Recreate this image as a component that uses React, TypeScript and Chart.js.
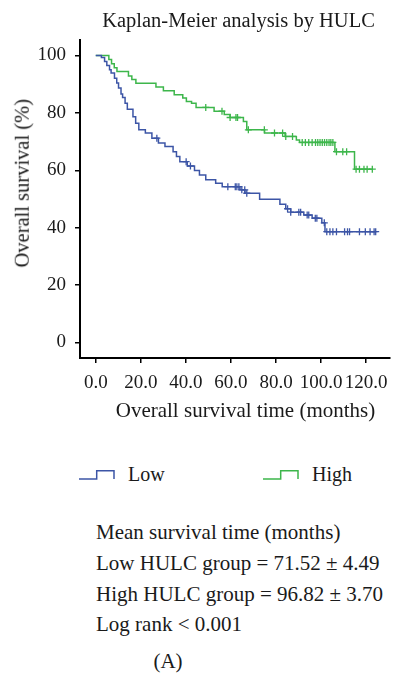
import React, { useEffect, useRef } from 'react';
import { Chart, registerables } from 'chart.js';

Chart.register(...registerables);

// Low HULC group: step times (months) and survival (%)
const lowTimes = [0, 2.5, 3.9, 4.9, 6.1, 6.8, 8.3, 9.3, 10.1, 11.2, 11.9, 13.0, 14.0, 16.5, 17.7, 19.1, 22.0, 24.9, 27.8, 30.7, 34.3, 35.8, 37.3, 40.6, 43.8, 46.0, 48.8, 53.2, 56.1, 64.0, 66.2, 72.7, 81.7, 84.3, 86.5, 92.3, 96.0, 100.3, 101.7, 124.3];
const lowSurv = [100, 99.3, 97.9, 96.5, 95.0, 93.9, 92.1, 90.4, 88.7, 86.6, 85.4, 83.4, 81.3, 78.7, 76.4, 74.1, 73.0, 71.2, 69.5, 68.3, 66.5, 64.8, 63.0, 61.5, 59.9, 58.4, 56.7, 55.5, 54.3, 53.2, 52.0, 49.9, 48.2, 46.6, 45.4, 44.4, 43.3, 41.7, 38.6, 38.6];
const lowCensored = [27.1, 40.1, 42.0, 58.6, 61.9, 62.6, 63.5, 64.8, 66.1, 67.0, 85.1, 86.5, 90.1, 90.9, 93.8, 94.5, 97.4, 98.1, 101.4, 102.5, 103.9, 105.2, 106.8, 110.4, 111.7, 112.6, 117.0, 119.6, 121.7, 123.5, 124.2];

// High HULC group
const highTimes = [0, 5.8, 7.0, 8.2, 9.4, 14.5, 16.0, 17.8, 26.7, 30.0, 34.8, 38.6, 40.2, 42.5, 44.5, 52.5, 57.0, 59.6, 65.5, 67.0, 74.9, 84.0, 89.0, 90.4, 106.1, 114.8, 122.7];
const highSurv = [100, 98.6, 97.1, 95.7, 94.4, 92.9, 91.6, 90.3, 89.0, 87.7, 86.3, 85.2, 84.0, 83.4, 81.9, 80.6, 79.4, 78.4, 77.0, 74.1, 73.0, 71.8, 70.6, 69.7, 66.5, 60.4, 60.4];
const highCensored = [48.8, 56.0, 59.6, 62.2, 62.9, 67.7, 74.8, 79.3, 82.9, 84.3, 87.3, 91.6, 93.0, 94.5, 96.0, 97.5, 98.5, 99.5, 100.5, 101.5, 102.5, 103.5, 104.3, 105.2, 106.8, 109.6, 111.3, 115.5, 117.0, 119.0, 120.4, 122.7];

const xTicks = [0, 20, 40, 60, 80, 100, 120];
const xTickLabels = ['0.0', '20.0', '40.0', '60.0', '80.0', '100.0', '120.0'];
const yTicks = [0, 20, 40, 60, 80, 100];
const yTickLabels = ['0', '20', '40', '60', '80', '100'];

const noteLines = [
  'Mean survival time (months)',
  'Low HULC group = 71.52 ± 4.49',
  'High HULC group = 96.82 ± 3.70',
  'Log rank < 0.001',
];

const BLUE = '#3c55a6';
const GREEN = '#3db64b';
const FONT = '"Liberation Serif", "Times New Roman", serif';

function survAt(times: number[], surv: number[], t: number) {
  let s = surv[0];
  for (let i = 0; i < times.length; i++) if (times[i] <= t) s = surv[i];
  return s;
}

const txt = (extra: React.CSSProperties): React.CSSProperties => ({
  position: 'absolute',
  fontFamily: FONT,
  color: '#1a1a1a',
  lineHeight: 1,
  whiteSpace: 'nowrap',
  ...extra,
});

function StepIcon({ color, left, top }: { color: string; left: number; top: number }) {
  return (
    <svg width={38} height={12} style={{ position: 'absolute', left, top }}>
      <polyline points="0,10 17.7,10 17.7,1.7 35,1.7 35,10" fill="none" stroke={color} strokeWidth={1.5} />
    </svg>
  );
}

export default function App() {
  const ref = useRef<HTMLCanvasElement>(null);
  useEffect(() => {
    const axisCommon = {
      type: 'linear' as const,
      grid: { display: true, drawOnChartArea: false, drawTicks: true, tickLength: 5, color: '#000', lineWidth: 1.5 },
      border: { display: true, color: '#000', width: 2 },
    };
    const chart = new Chart(ref.current!, {
      type: 'scatter',
      data: {
        datasets: [
          {
            label: 'Low',
            data: lowTimes.map((t, i) => ({ x: t, y: lowSurv[i] })),
            showLine: true,
            stepped: 'before',
            borderColor: BLUE,
            borderWidth: 1.5,
            pointRadius: 0,
            fill: false,
          },
          {
            label: 'High',
            data: highTimes.map((t, i) => ({ x: t, y: highSurv[i] })),
            showLine: true,
            stepped: 'before',
            borderColor: GREEN,
            borderWidth: 1.5,
            pointRadius: 0,
            fill: false,
          },
          {
            label: 'Low censored',
            data: lowCensored.map((t) => ({ x: t, y: survAt(lowTimes, lowSurv, t) })),
            showLine: false,
            pointStyle: 'cross',
            pointRadius: 3.5,
            borderColor: BLUE,
            borderWidth: 1.3,
          },
          {
            label: 'High censored',
            data: highCensored.map((t) => ({ x: t, y: survAt(highTimes, highSurv, t) })),
            showLine: false,
            pointStyle: 'cross',
            pointRadius: 3.5,
            borderColor: GREEN,
            borderWidth: 1.3,
          },
        ],
      },
      options: {
        responsive: false,
        animation: false,
        devicePixelRatio: 1,
        layout: { padding: { left: 0, right: 1, top: 40, bottom: 0 } },
        plugins: { legend: { display: false }, tooltip: { enabled: false }, title: { display: false } },
        scales: {
          x: {
            ...axisCommon,
            min: -7,
            max: 130.4,
            afterBuildTicks: (s: any) => {
              s.ticks = xTicks.map((v) => ({ value: v }));
            },
            afterFit: (s: any) => {
              s.height = 82;
            },
            ticks: {
              font: { family: FONT, size: 19 },
              color: '#1a1a1a',
              padding: 9,
              maxRotation: 0,
              autoSkip: false,
              callback: (v: any) => xTickLabels[xTicks.indexOf(Number(v))] ?? '',
            },
          },
          y: {
            ...axisCommon,
            min: -5.4,
            max: 105.4,
            afterBuildTicks: (s: any) => {
              s.ticks = yTicks.map((v) => ({ value: v }));
            },
            afterFit: (s: any) => {
              s.width = 80;
            },
            ticks: {
              font: { family: FONT, size: 19 },
              color: '#1a1a1a',
              padding: 9,
              autoSkip: false,
              callback: (v: any) => yTickLabels[yTicks.indexOf(Number(v))] ?? '',
            },
          },
        },
      },
    } as any);
    return () => chart.destroy();
  }, []);

  return (
    <div style={{ position: 'absolute', left: 0, top: 0, width: 397, height: 677, background: '#fff', overflow: 'hidden' }}>
      <canvas ref={ref} width={397} height={440} style={{ position: 'absolute', left: 0, top: 0, width: 397, height: 440 }} />
      <div style={txt({ left: 88.5, width: 300, top: 9.8, fontSize: 20.5, textAlign: 'center' })}>Kaplan-Meier analysis by HULC</div>
      <div
        style={txt({
          left: 22 - 110,
          width: 220,
          top: 183 - 10.25,
          fontSize: 20.5,
          textAlign: 'center',
          transform: 'rotate(-90deg)',
          transformOrigin: '50% 50%',
        })}
      >
        Overall survival (%)
      </div>
      <div style={txt({ left: 245.5 - 160, width: 320, top: 400, fontSize: 21, textAlign: 'center' })}>Overall survival time (months)</div>
      <StepIcon color={BLUE} left={79} top={469} />
      <div style={txt({ left: 128, top: 464, fontSize: 20 })}>Low</div>
      <StepIcon color={GREEN} left={263} top={469} />
      <div style={txt({ left: 312, top: 464, fontSize: 20 })}>High</div>
      {noteLines.map((line, i) => (
        <div key={i} style={txt({ left: 96, top: 522.4 + i * 30.6, fontSize: 21 })}>
          {line}
        </div>
      ))}
      <div style={txt({ left: 168 - 40, width: 80, top: 651.4, fontSize: 21, textAlign: 'center' })}>(A)</div>
    </div>
  );
}
